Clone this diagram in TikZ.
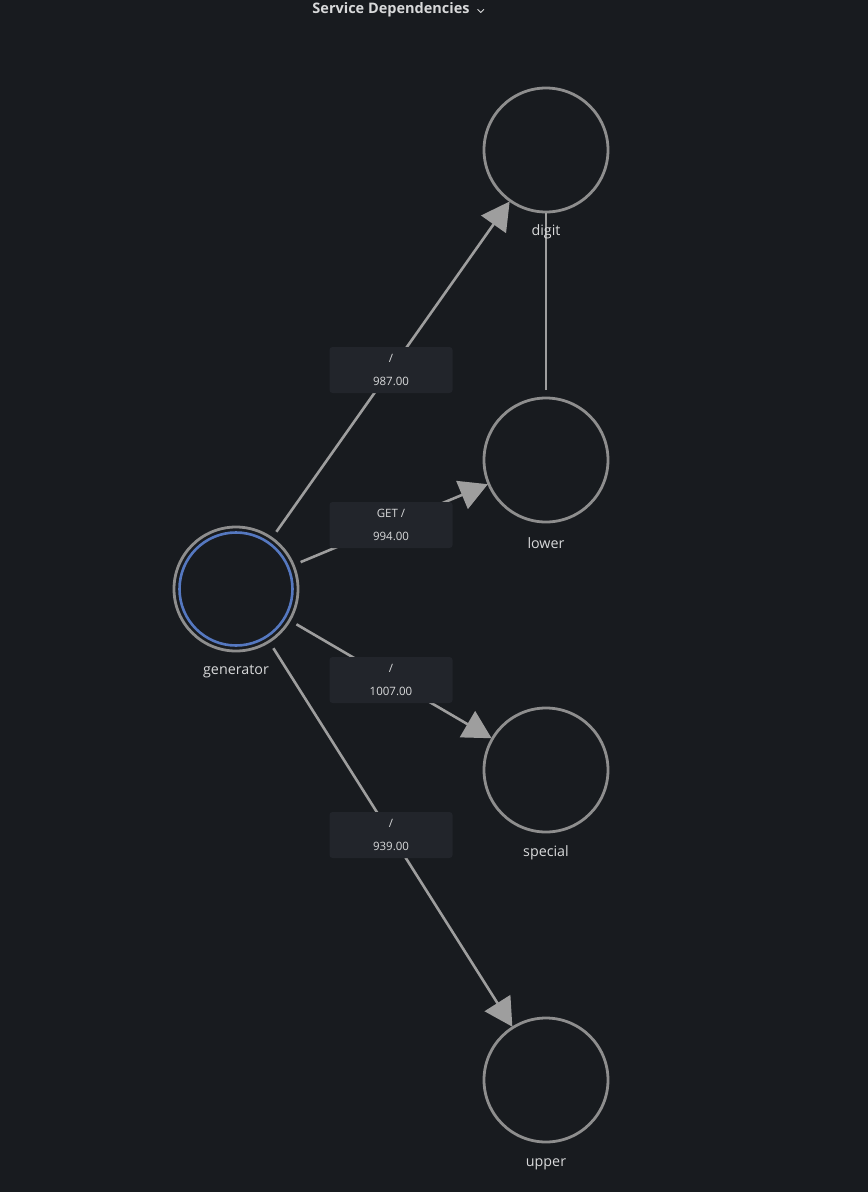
\documentclass[tikz,border=0pt]{standalone}
\usepackage{fontspec}
\setmainfont{Open Sans}
\usetikzlibrary{arrows.meta,calc}
\definecolor{bgc}{HTML}{181B1F}
\definecolor{boxc}{HTML}{22252B}
\definecolor{ringc}{HTML}{8E8E8E}
\definecolor{edgec}{HTML}{9E9E9E}
\definecolor{bluec}{HTML}{5578C0}
\definecolor{txtc}{HTML}{D8D9DA}
\tikzset{
  svc/.style={circle, draw=ringc, line width=2.8bp, minimum size=124bp, inner sep=0pt},
  genring/.style={circle, draw=bluec, line width=2.6bp, minimum size=113bp, inner sep=0pt},
  lbl/.style={text=txtc, font=\fontsize{14.3bp}{16bp}\selectfont, inner sep=0pt},
  edgebox/.style={fill=boxc, rounded corners=3bp, minimum width=123bp, minimum height=46bp,
    text=txtc, align=center, font=\fontsize{11.5bp}{23bp}\selectfont, inner sep=0pt},
  edgeline/.style={draw=edgec, line width=2.6bp},
  arrowed/.style={edgeline, -{Triangle[length=28bp,width=30bp]}},
  titlest/.style={text=txtc, font=\fontsize{14.5bp}{16bp}\selectfont\bfseries, inner sep=0pt}
}
\begin{document}
\begin{tikzpicture}[x=1bp,y=-1bp]
\useasboundingbox (0,0) rectangle (868,1192);
\fill[bgc] (-6,-6) rectangle (874,1198);
% title
\node[titlest] (title) at (391,10) {Service Dependencies};
\coordinate (chev) at ($(title.east)+(11,1)$);
\draw[txtc, line width=1bp, line cap=round, line join=round] ($(chev)+(-3,-1.5)$) -- ($(chev)+(0,1.5)$) -- ($(chev)+(3,-1.5)$);
% nodes
\node[svc] (digit) at (546,150) {};
\node[svc] (lower) at (546,460) {};
\node[svc] (special) at (546,770) {};
\node[svc] (upper) at (546,1080) {};
\node[svc] (gen) at (236,589) {};
\node[genring] (genin) at (gen) {};
% edges
\draw[arrowed] ($(gen.center)!70bp!(digit.center)$) -- ($(digit.center)!63bp!(gen.center)$);
\draw[arrowed] ($(gen.center)!70bp!(lower.center)$) -- ($(lower.center)!63bp!(gen.center)$);
\draw[arrowed] ($(gen.center)!70bp!(special.center)$) -- ($(special.center)!63bp!(gen.center)$);
\draw[arrowed] ($(gen.center)!70bp!(upper.center)$) -- ($(upper.center)!63bp!(gen.center)$);
\draw[edgeline] ($(lower.center)!70bp!(digit.center)$) -- ($(digit.center)!63bp!(lower.center)$);
% edge labels
\node[edgebox] (e1) at (391,370) {/\\987.00};
\node[edgebox] (e2) at (391,525) {GET /\\994.00};
\node[edgebox] (e3) at (391,680) {/\\1007.00};
\node[edgebox] (e4) at (391,835) {/\\939.00};
% node labels
\node[lbl] (digitl) at (546,232) {digit};
\node[lbl] (lowerl) at (546,543) {lower};
\node[lbl] (speciall) at (546,853) {special};
\node[lbl] (upperl) at (546,1164) {upper};
\node[lbl] (genl) at (236,671) {generator};
\end{tikzpicture}
\end{document}
